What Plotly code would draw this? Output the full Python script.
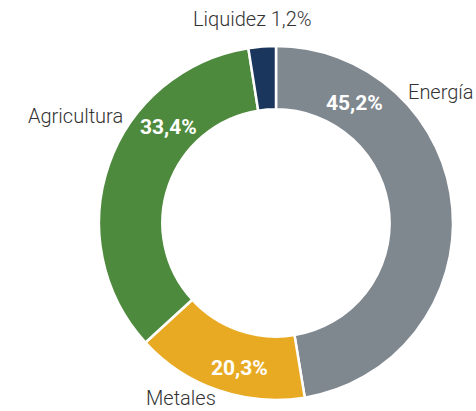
import plotly.graph_objects as go

categories = ["Energía", "Metales", "Agricultura", "Liquidez"]
# percentages printed on the chart
printed_pct = [45.2, 20.3, 33.4, 1.2]
# arc shares as drawn in the picture (measured from slice boundaries)
arc_share = [47.4, 15.8, 34.3, 2.5]
colors = ["#7f878f", "#e9aa23", "#4e8a3d", "#1b365d"]

def fmt(v):
    return f"{v:.1f}".replace(".", ",") + "%"

W, H = 476, 411
cx, cy, r = 276, 223, 177

fig = go.Figure(go.Pie(
    labels=categories,
    values=arc_share,
    sort=False,
    direction="clockwise",
    rotation=0,
    hole=0.642,
    marker=dict(colors=colors, line=dict(color="white", width=2.5)),
    textinfo="none",
    hoverinfo="label",
    domain=dict(x=[(cx - r) / W, (cx + r) / W], y=[(H - cy - r) / H, (H - cy + r) / H]),
    showlegend=False,
))

# outside label positions and inside percent positions (pixels from top-left)
label_pos = [(441, 92), (181, 398), (75, 116), (252, 19)]
pct_pos = [(354, 103), (239, 368), (168, 127)]

ann = []
for i, (name, v) in enumerate(zip(categories, printed_pct)):
    x, y = label_pos[i]
    txt = name if i < 3 else f"{name} {fmt(v)}"
    ann.append(dict(x=x / W, y=1 - y / H, xref="paper", yref="paper", text=txt,
                    showarrow=False, xanchor="center", yanchor="middle",
                    font=dict(family="Roboto", size=20, color="#333333", weight=300)))
for i in range(3):
    x, y = pct_pos[i]
    ann.append(dict(x=x / W, y=1 - y / H, xref="paper", yref="paper", text=fmt(printed_pct[i]),
                    showarrow=False, xanchor="center", yanchor="middle",
                    font=dict(family="Roboto", size=21, color="white", weight=700)))

fig.update_layout(width=W, height=H, margin=dict(l=0, r=0, t=0, b=0),
                  paper_bgcolor="white", plot_bgcolor="white", annotations=ann)
fig.write_html("out.html", config={"displayModeBar": False},
               post_script="document.body.style.margin='0';document.body.style.overflow='hidden';")
